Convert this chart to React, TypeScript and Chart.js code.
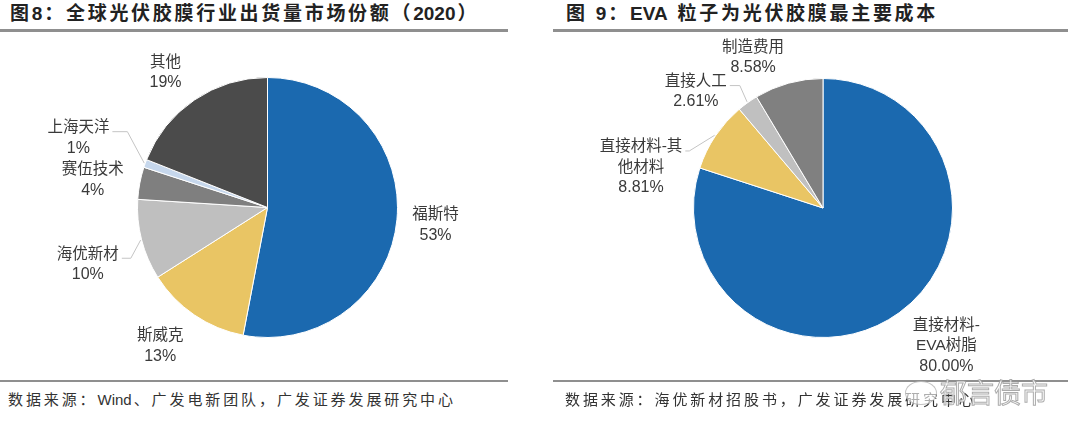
import React, { useEffect, useRef } from "react";
import { Chart, registerables } from "chart.js";

Chart.register(...registerables);

// ---------- data ----------
const shareNames: string[][] = [["福斯特"], ["斯威克"], ["海优新材"], ["赛伍技术"], ["上海天洋"], ["其他"]];
const shareValues: number[] = [53, 13, 10, 4, 1, 19];

const costNames: string[][] = [["直接材料-", "EVA树脂"], ["直接材料-其", "他材料"], ["直接人工"], ["制造费用"]];
const costValues: number[] = [80.0, 8.81, 2.61, 8.58];

const leftTitle = "图8：全球光伏胶膜行业出货量市场份额（2020）";
const rightTitle = "图 9：EVA 粒子为光伏胶膜最主要成本";
const leftSource = "数据来源：Wind、广发电新团队，广发证券发展研究中心";
const rightSource = "数据来源：海优新材招股书，广发证券发展研究中心";

// ---------- styles ----------
const shareColors = ["#1b69af", "#e9c564", "#bfbfbf", "#7f7f7f", "#c6d7ec", "#4b4b4b"];
const costColors = ["#1b69af", "#e9c564", "#c0c0c0", "#808080"];

// label placement: distance factor (x radius) and angle adjustment (deg) from slice mid-angle
const shareLabelDist = [1.3, 1.35, 1.45, 1.36, 1.55, 1.3];
const shareLabelAdj = [0.7, 3.5, -3.2, -2, 0.4, -2.9];
const shareLeaders: (number | null)[] = [null, null, 9, null, 15, null];

const costLabelDist = [1.43, 1.44, 1.33, 1.28];
const costLabelAdj = [-5.8, -21.3, -12, -9.5];
const costLeaders: (number | null)[] = [null, 4, 10, null];

const NAME_FONT = '15.5px "Liberation Sans", "Noto Sans CJK SC", sans-serif';
const PCT_FONT = '16px "Liberation Sans", Arial, sans-serif';
const LINE_H = 20.5;
const TEXT_COLOR = "#3a3a3a";

type LabelCfg = {
  names: string[][];
  pct: string[];
  dist: number[];
  adj: number[];
  leaders: (number | null)[];
};

function labelPlugin(cfg: LabelCfg) {
  return {
    id: "outLabels",
    afterDatasetsDraw(chart: any) {
      const ctx: CanvasRenderingContext2D = chart.ctx;
      const meta = chart.getDatasetMeta(0);
      meta.data.forEach((arc: any, i: number) => {
        const p = arc.getProps(["x", "y", "startAngle", "endAngle", "outerRadius"], true);
        const mid = (p.startAngle + p.endAngle) / 2;
        const ang = mid + (cfg.adj[i] * Math.PI) / 180;
        const r = p.outerRadius;
        const cx = p.x + Math.cos(ang) * r * cfg.dist[i];
        const cy = p.y + Math.sin(ang) * r * cfg.dist[i];
        const lines = [...cfg.names[i], cfg.pct[i]];
        const n = lines.length;
        const top = cy - ((n - 1) * LINE_H) / 2;
        ctx.save();
        ctx.fillStyle = TEXT_COLOR;
        ctx.textAlign = "center";
        ctx.textBaseline = "middle";
        let firstW = 0;
        lines.forEach((t, k) => {
          ctx.font = k === n - 1 ? PCT_FONT : NAME_FONT;
          if (k === 0) firstW = ctx.measureText(t).width;
          ctx.fillText(t, cx, top + k * LINE_H);
        });
        const elbow = cfg.leaders[i];
        if (elbow !== null && elbow !== undefined) {
          const sx = p.x + Math.cos(mid) * (r + 1);
          const sy = p.y + Math.sin(mid) * (r + 1);
          const ex = cx + firstW / 2 + 3;
          const ey = top + 4;
          ctx.strokeStyle = "#c4c4c4";
          ctx.lineWidth = 1;
          ctx.beginPath();
          ctx.moveTo(ex, ey);
          ctx.lineTo(ex + elbow, ey);
          ctx.lineTo(sx, sy);
          ctx.stroke();
        }
        ctx.restore();
      });
    },
  };
}

function PieCanvas(props: {
  values: number[];
  colors: string[];
  cfg: LabelCfg;
  padding: { left: number; right: number; top: number; bottom: number };
  style: React.CSSProperties;
}) {
  const ref = useRef<HTMLCanvasElement | null>(null);
  useEffect(() => {
    if (!ref.current) return;
    const chart = new Chart(ref.current, {
      type: "pie",
      data: {
        labels: props.cfg.names.map((n) => n.join("")),
        datasets: [
          {
            data: props.values,
            backgroundColor: props.colors,
            borderColor: "#ffffff",
            borderWidth: 1,
          },
        ],
      },
      options: {
        animation: false,
        responsive: false,
        maintainAspectRatio: false,
        layout: { padding: props.padding },
        plugins: { legend: { display: false }, tooltip: { enabled: false } },
      },
      plugins: [labelPlugin(props.cfg)],
    } as any);
    return () => chart.destroy();
  }, []);
  return <canvas ref={ref} width={540} height={350} style={props.style} />;
}

// Latin/digit runs are set tight, CJK runs spaced
function Spaced(props: { text: string }) {
  const parts = props.text.split(/([A-Za-z0-9]+)/).filter((s) => s.length > 0);
  return (
    <>
      {parts.map((s, i) =>
        /^[A-Za-z0-9]+$/.test(s) ? (
          <span key={i} style={{ letterSpacing: "0px", marginRight: "2px" }}>
            {s}
          </span>
        ) : (
          <span key={i}>{s}</span>
        )
      )}
    </>
  );
}

const titleStyle: React.CSSProperties = {
  position: "absolute",
  top: 2,
  font: 'bold 19px "Liberation Sans", "Noto Sans CJK SC", sans-serif',
  letterSpacing: "2.7px",
  color: "#222",
  whiteSpace: "nowrap",
  lineHeight: "24px",
};
const sourceStyle: React.CSSProperties = {
  position: "absolute",
  top: 389,
  font: '15px "Liberation Sans", "Noto Sans CJK SC", sans-serif',
  letterSpacing: "2.9px",
  color: "#333",
  whiteSpace: "nowrap",
  lineHeight: "22px",
};
const rule = (left: number, width: number, top: number, h: number): React.CSSProperties => ({
  position: "absolute",
  left,
  width,
  top,
  height: h,
  background: "#8f8f8f",
});

export default function App() {
  const sharePct = shareValues.map((v) => `${v}%`);
  const costPct = costValues.map((v) => `${v.toFixed(2)}%`);
  return (
    <div
      style={{
        position: "absolute",
        left: 0,
        top: 0,
        width: 1080,
        height: 440,
        background: "#fff",
        overflow: "hidden",
      }}
    >
      <div style={{ ...titleStyle, left: 10 }}>
        <Spaced text={leftTitle} />
      </div>
      <div style={{ ...titleStyle, left: 566 }}>
        <Spaced text={rightTitle} />
      </div>
      <div style={rule(0, 508, 29, 3)} />
      <div style={rule(553, 515, 29, 3)} />

      <PieCanvas
        values={shareValues}
        colors={shareColors}
        cfg={{ names: shareNames, pct: sharePct, dist: shareLabelDist, adj: shareLabelAdj, leaders: shareLeaders }}
        padding={{ left: 137, right: 142, top: 47, bottom: 42 }}
        style={{ position: "absolute", left: 0, top: 30 }}
      />
      <PieCanvas
        values={costValues}
        colors={costColors}
        cfg={{ names: costNames, pct: costPct, dist: costLabelDist, adj: costLabelAdj, leaders: costLeaders }}
        padding={{ left: 153, right: 127, top: 48, bottom: 42 }}
        style={{ position: "absolute", left: 540, top: 30 }}
      />

      <div style={rule(0, 508, 380, 2)} />
      <div style={rule(553, 515, 380, 2)} />
      <div style={{ ...sourceStyle, left: 8 }}>
        <Spaced text={leftSource} />
      </div>
      <div style={{ ...sourceStyle, left: 565 }}>
        <Spaced text={rightSource} />
      </div>

      {/* watermark */}
      <div
        style={{
          position: "absolute",
          left: 905,
          top: 381,
          width: 30,
          height: 22,
          borderRadius: "50%",
          border: "1.5px solid rgba(170,170,170,0.7)",
          background: "rgba(255,255,255,0.6)",
        }}
      />
      <div
        style={{
          position: "absolute",
          left: 940,
          top: 376,
          font: '27px "Noto Sans CJK SC", sans-serif',
          color: "rgba(255,255,255,0.85)",
          WebkitTextStroke: "1px rgba(150,150,150,0.8)",
          letterSpacing: "0px",
          whiteSpace: "nowrap",
          lineHeight: "32px",
        }}
      >
        郁言债市
      </div>
    </div>
  );
}
